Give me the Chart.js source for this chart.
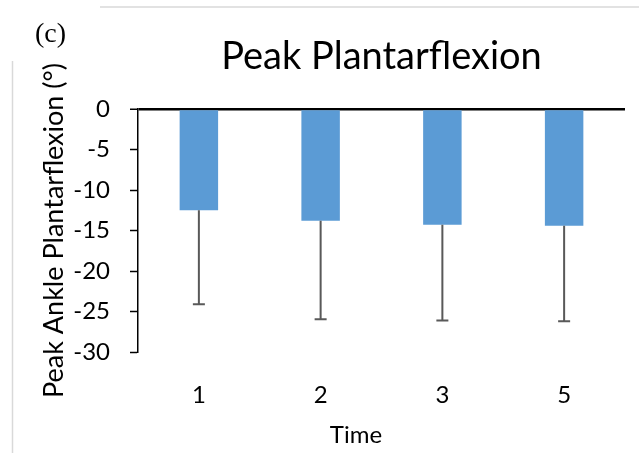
<!DOCTYPE html>
<html>
<head>
<meta charset="utf-8">
<script src="https://cdn.jsdelivr.net/npm/chart.js@4.4.0/dist/chart.umd.min.js"></script>
<style>
  html, body { margin: 0; padding: 0; background: #fff; }
  canvas { display: block; }
</style>
</head>
<body>
<canvas id="myChart" width="639" height="453"></canvas>
<script>
// data
var timeLabels = ["1", "2", "3", "5"];
var peakMeans = [-12.5, -13.8, -14.3, -14.4];
var peakSD = [11.6, 12.15, 11.8, 11.8];

var FONT = "Lato, 'Open Sans', sans-serif";

// error bars (downward only) + the "(c)" mark, "Time" and the page lines
var extras = {
	id : 'extras',
	beforeDraw : function(chart) {
		var ctx = chart.ctx;
		ctx.save();
		ctx.strokeStyle = '#d9d9d9';
		ctx.lineWidth = 1.5;
		ctx.beginPath();
		ctx.moveTo(100, 7);
		ctx.lineTo(639, 7);
		ctx.moveTo(12.5, 61);
		ctx.lineTo(12.5, 453);
		ctx.stroke();
		ctx.fillStyle = '#000';
		ctx.font = "28px 'Liberation Serif', serif";
		ctx.textBaseline = 'alphabetic';
		ctx.textAlign = 'left';
		ctx.fillText('(c)', 35, 42);
		ctx.restore();
	},
	afterDatasetsDraw : function(chart) {
		var ctx = chart.ctx;
		var yScale = chart.scales.y;
		var bars = chart.getDatasetMeta(0).data;
		ctx.save();
		ctx.strokeStyle = '#595959';
		ctx.lineWidth = 2;
		for (var i = 0; i < bars.length; i++) {
			var x = bars[i].x;
			var y0 = bars[i].y;
			var y1 = yScale.getPixelForValue(peakMeans[i] - peakSD[i]);
			ctx.beginPath();
			ctx.moveTo(x, y0);
			ctx.lineTo(x, y1);
			ctx.moveTo(x - 6, y1);
			ctx.lineTo(x + 6, y1);
			ctx.stroke();
		}
		ctx.restore();
	},
	afterDraw : function(chart) {
		var ctx = chart.ctx;
		ctx.save();
		ctx.fillStyle = '#000';
		ctx.font = "24px " + FONT;
		ctx.textAlign = 'center';
		ctx.textBaseline = 'alphabetic';
		ctx.fillText('Time', 356, 442.5);
		ctx.restore();
	}
};

var ctxB = document.getElementById("myChart").getContext('2d');
var myBarChart = new Chart(ctxB, {
	type : 'bar',
	data : {
		labels : timeLabels,
		datasets : [ {
			data : peakMeans,
			backgroundColor : "#5B9BD5",
			borderWidth : 0,
			barPercentage : 0.316,
			categoryPercentage : 1
		} ]
	},
	options : {
		responsive : false,
		animation : false,
		layout : {
			padding : { left : 0, right : 14, top : 0, bottom : 0 }
		},
		plugins : {
			legend : { display : false },
			tooltip : { enabled : false },
			title : {
				display : true,
				fullSize : false,
				text : 'Peak Plantarflexion',
				color : '#000',
				font : { family : FONT, size : 38, weight : 'normal' },
				padding : { top : 34.4, bottom : 29 }
			}
		},
		scales : {
			x : {
				grid : { display : false },
				border : { display : false },
				ticks : {
					color : '#000',
					font : { family : FONT, size : 24 },
					padding : 21
				},
				afterFit : function(scale) {
					scale.height = 101;
				}
			},
			y : {
				min : -30,
				max : 0,
				ticks : {
					stepSize : 5,
					color : '#000',
					font : { family : FONT, size : 24 },
					padding : 20
				},
				grid : {
					color : function(c) {
						return c.tick && c.tick.value === 0 ? '#000' : 'rgba(0,0,0,0)';
					},
					lineWidth : function(c) {
						return c.tick && c.tick.value === 0 ? 2.5 : 1;
					},
					tickColor : '#000',
					tickWidth : 1.5,
					tickLength : 8
				},
				border : { display : true, color : '#000', width : 1.5 },
				title : {
					display : true,
					text : 'Peak Ankle Plantarflexion (°)',
					color : '#000',
					font : { family : FONT, size : 27 },
					padding : { top : 38, bottom : 0 }
				},
				afterFit : function(scale) {
					scale.width = 138;
				}
			}
		}
	},
	plugins : [ extras ]
});
</script>
</body>
</html>
